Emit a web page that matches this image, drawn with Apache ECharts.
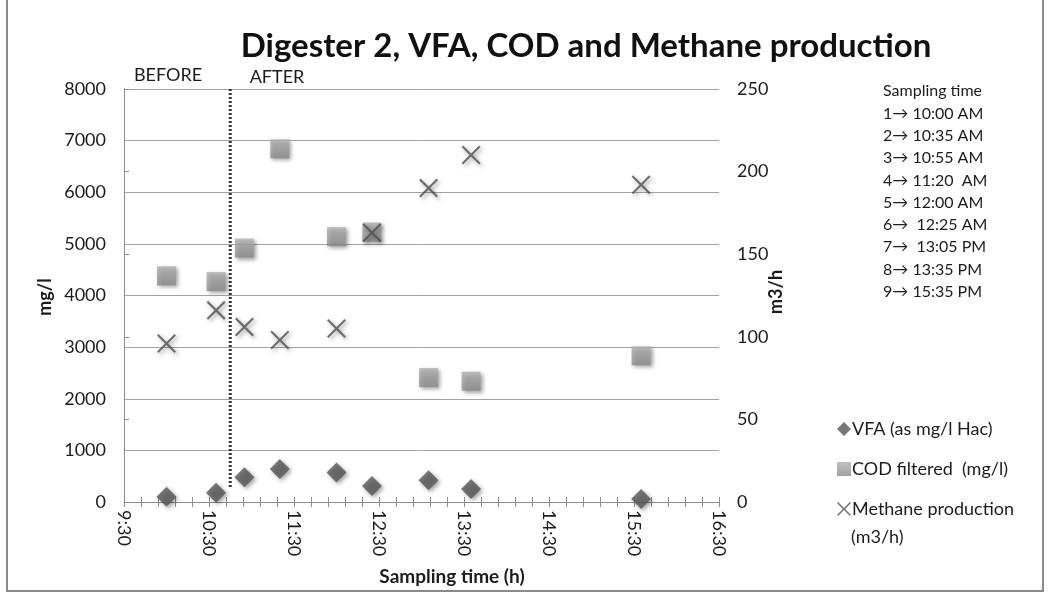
<!DOCTYPE html>
<html>
<head>
<meta charset="utf-8">
<script src="https://cdn.jsdelivr.net/npm/echarts@6/dist/echarts.min.js"></script>
<style>
  html, body { margin: 0; padding: 0; background: #fff; }
  #chart { width: 1049px; height: 594px; }
</style>
</head>
<body>
<div id="chart"></div>
<script>
const times = ['10:00', '10:35', '10:55', '11:20', '12:00', '12:25', '13:05', '13:35', '15:35']
const vfa = [100, 180, 480, 640, 570, 310, 420, 250, 60]
const cod = [4380, 4270, 4920, 6840, 5140, 5230, 2410, 2340, 2830]
const methane = [96, 116, 106, 98, 105, 163, 190, 210, 192]

const axisStart = '9:30'
const axisEnd = '16:30'
const switchTime = '10:45'
const samplingNotes = [
  'Sampling time',
  '1\u2192 10:00 AM',
  '2\u2192 10:35 AM',
  '3\u2192 10:55 AM',
  '4\u2192 11:20  AM',
  '5\u2192 12:00 AM',
  '6\u2192  12:25 AM',
  '7\u2192  13:05 PM',
  '8\u2192 13:35 PM',
  '9\u2192 15:35 PM'
]

const FONT = 'Lato'
const TEXT = '#1c1c1c'
const AXIS = '#8c8c8c'

const toMin = (s) => {
  const [h, m] = s.split(':').map(Number)
  return h * 60 + m
}
const origin = toMin(axisStart)
const fmtTime = (v) => {
  const t = origin + v
  return Math.floor(t / 60) + ':' + String(t % 60).padStart(2, '0')
}
const pairs = (vals) => times.map((t, i) => [toMin(t) - origin, vals[i]])

const CROSS = 'path://M0,0.8L0.8,0L5,4.2L9.2,0L10,0.8L5.8,5L10,9.2L9.2,10L5,5.8L0.8,10L0,9.2L4.2,5Z'
const shadow = { shadowBlur: 4, shadowColor: 'rgba(0,0,0,0.45)', shadowOffsetX: 2, shadowOffsetY: 2 }

const chart = echarts.init(document.getElementById('chart'))

const xBase = {
  type: 'value',
  min: 0,
  max: toMin(axisEnd) - origin,
  interval: 60,
  splitLine: { show: false }
}

chart.setOption({
  animation: false,
  textStyle: { fontFamily: FONT },
  grid: { left: 124, right: 330, top: 89, bottom: 92 },
  legend: {
    orient: 'vertical',
    left: 832,
    top: 415,
    itemWidth: 14,
    itemHeight: 14,
    itemGap: 22,
    data: ['VFA (as mg/l Hac)', 'COD filtered  (mg/l)', 'Methane production (m3/h)'],
    textStyle: { fontFamily: FONT, fontSize: 18, color: TEXT, padding: [0, 0, 0, -4] },
    formatter: (n) => n === 'Methane production (m3/h)' ? 'Methane production' : n
  },
  xAxis: [
    Object.assign({}, xBase, {
      axisLine: { lineStyle: { color: AXIS } },
      axisTick: { length: 5, lineStyle: { color: AXIS } },
      minorTick: { show: true, splitNumber: 5, length: 5, lineStyle: { color: AXIS } },
      axisLabel: { rotate: -90, margin: 8, fontSize: 18, color: TEXT, fontFamily: FONT, formatter: fmtTime }
    }),
    Object.assign({}, xBase, {
      position: 'bottom',
      axisLine: { show: false },
      axisTick: { inside: true, length: 5, lineStyle: { color: AXIS } },
      minorTick: { show: true, splitNumber: 5, length: 5, lineStyle: { color: AXIS } },
      axisLabel: { show: false }
    })
  ],
  yAxis: [
    {
      type: 'value',
      min: 0,
      max: 8000,
      interval: 1000,
      axisLine: { show: true, lineStyle: { color: AXIS } },
      axisTick: { show: false },
      splitLine: { lineStyle: { color: '#a3a3a3' } },
      axisLabel: { margin: 18, fontSize: 18, color: TEXT, fontFamily: FONT, formatter: (v) => String(v) }
    },
    {
      type: 'value',
      position: 'right',
      min: 0,
      max: 250,
      interval: 50,
      axisLine: { show: true, lineStyle: { color: AXIS } },
      axisTick: { show: true, length: 5, lineStyle: { color: AXIS } },
      splitLine: { show: false },
      axisLabel: { margin: 18, fontSize: 18, color: TEXT, fontFamily: FONT, formatter: (v) => String(v) }
    }
  ],
  series: [
    {
      name: 'divider',
      type: 'line',
      data: [[toMin(switchTime) - origin, 8000], [toMin(switchTime) - origin, 290]],
      symbol: 'none',
      silent: true,
      lineStyle: { color: '#333', width: 3, type: [2, 2] },
      z: 1
    },
    {
      name: 'VFA (as mg/l Hac)',
      type: 'scatter',
      data: pairs(vfa),
      symbol: 'diamond',
      symbolSize: 20,
      itemStyle: Object.assign({ color: '#555' }, shadow),
      z: 3
    },
    {
      name: 'COD filtered  (mg/l)',
      type: 'scatter',
      data: pairs(cod),
      symbol: 'rect',
      symbolSize: 19,
      itemStyle: Object.assign({
        color: new echarts.graphic.LinearGradient(0, 0, 0, 1, [
          { offset: 0, color: '#b0b0b0' },
          { offset: 1, color: '#8a8a8a' }
        ])
      }, shadow),
      z: 3
    },
    {
      name: 'Methane production (m3/h)',
      type: 'scatter',
      yAxisIndex: 1,
      data: pairs(methane),
      symbol: CROSS,
      symbolSize: 19,
      itemStyle: Object.assign({ color: '#505050' }, shadow),
      z: 4
    }
  ],
  graphic: [
    {
      type: 'rect',
      shape: { x: 7, y: -5, width: 1036, height: 596 },
      style: { fill: 'none', stroke: '#8a8a8a', lineWidth: 2 },
      silent: true
    },
    {
      type: 'text',
      x: 586, y: 46,
      style: { text: 'Digester 2, VFA, COD and Methane production', fontFamily: FONT, fontWeight: 'bold',
        fontSize: 33, fill: '#111', align: 'center', verticalAlign: 'middle' }
    },
    {
      type: 'text',
      x: 168, y: 75,
      style: { text: 'BEFORE', fontFamily: FONT, fontSize: 18, fill: TEXT, align: 'center', verticalAlign: 'middle' }
    },
    {
      type: 'text',
      x: 277, y: 77,
      style: { text: 'AFTER', fontFamily: FONT, fontSize: 18, fill: TEXT, align: 'center', verticalAlign: 'middle' }
    },
    {
      type: 'text',
      x: 45, y: 297,
      rotation: Math.PI / 2,
      style: { text: 'mg/l', fontFamily: FONT, fontWeight: 'bold', fontSize: 18, fill: TEXT, align: 'center', verticalAlign: 'middle' }
    },
    {
      type: 'text',
      x: 776, y: 292,
      rotation: Math.PI / 2,
      style: { text: 'm3/h', fontFamily: FONT, fontWeight: 'bold', fontSize: 18, fill: TEXT, align: 'center', verticalAlign: 'middle' }
    },
    {
      type: 'text',
      x: 452, y: 577,
      style: { text: 'Sampling time (h)', fontFamily: FONT, fontWeight: 'bold', fontSize: 19, fill: TEXT, align: 'center', verticalAlign: 'middle' }
    },
    {
      type: 'text',
      x: 851, y: 537,
      style: { text: '(m3/h)', fontFamily: FONT, fontSize: 18, fill: TEXT, verticalAlign: 'middle' }
    },
    {
      type: 'text',
      x: 883, y: 80,
      style: { text: samplingNotes.join('\n'), fontFamily: FONT, fontSize: 16, lineHeight: 22.3, fill: TEXT }
    }
  ]
})
</script>
</body>
</html>
